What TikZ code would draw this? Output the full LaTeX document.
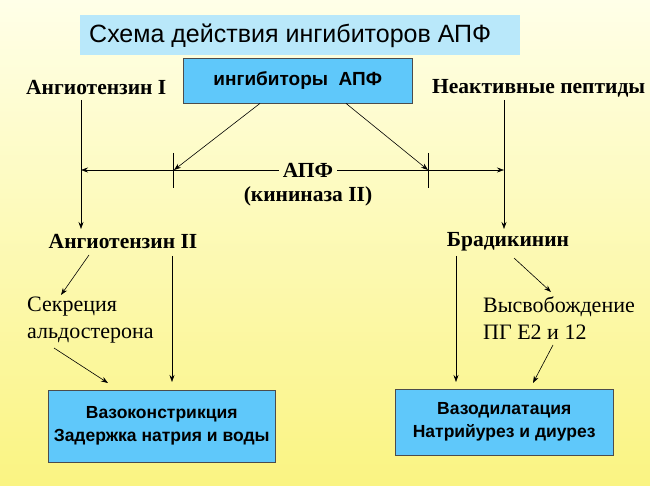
\documentclass[tikz,border=0pt]{standalone}
\usepackage{fontspec}
\setmainfont{Liberation Serif}
\setsansfont{Liberation Sans}
\usetikzlibrary{arrows.meta}
\definecolor{bx}{RGB}{95,200,250}
\definecolor{tb}{RGB}{185,232,250}
\definecolor{bgt}{RGB}{255,255,232}
\definecolor{bgb}{RGB}{250,244,130}
\begin{document}
\begin{tikzpicture}[x=1pt,y=-1pt,
  lab/.style={font=\fontsize{21.5}{24}\selectfont\bfseries, inner sep=0pt},
  txt/.style={font=\fontsize{22}{27}\selectfont, inner sep=0pt, align=left},
  box/.style={draw=black!70, fill=bx, font=\sffamily\bfseries\fontsize{17.5}{23}\selectfont, align=center},
  arr/.style={-{Stealth[length=7pt,width=5pt]}, line width=0.6pt},
  ln/.style={line width=0.6pt}]
\shade[top color=bgt, bottom color=bgb] (0,0) rectangle (650,486);
\useasboundingbox (0,0) rectangle (650,486);
\node[fill=tb, minimum width=440pt, minimum height=40pt, anchor=north west, inner sep=0pt] (title) at (80,15) {};
\node[anchor=west, font=\sffamily\fontsize{25}{28}\selectfont, inner sep=0pt] (tt) at (89,36) {Схема действия ингибиторов АПФ};
\node[box, font=\sffamily\bfseries\fontsize{19}{23}\selectfont, minimum width=229pt, minimum height=45pt, anchor=north west, inner sep=0pt] (inh) at (183,58) {ингибиторы\ \ АПФ};
\node[lab, anchor=west] (a1) at (26,88) {Ангиотензин I};
\node[lab, anchor=west] (np) at (432,88) {Неактивные пептиды};
\node[lab] (apf) at (308,170) {АПФ};
\node[lab] (kin) at (308,196) {(кининаза II)};
\node[lab] (a2) at (123,242) {Ангиотензин II};
\node[lab] (bk) at (508,242) {Брадикинин};
\node[txt, anchor=north west] (sek) at (27,297) {Секреция\\альдостерона};
\node[txt, anchor=north west] (vys) at (483,297) {Высвобождение\\ПГ Е2 и 12};
\node[box, minimum width=227pt, minimum height=72pt, anchor=north west, inner sep=0pt] (b1) at (48,390) {Вазоконстрикция\\Задержка натрия и воды};
\node[box, minimum width=218pt, minimum height=66pt, anchor=north west, inner sep=0pt] (b2) at (395,389) {Вазодилатация\\Натрийурез и диурез};
\coordinate (l0) at (81,100); \coordinate (l1) at (81,229);
\coordinate (r0) at (504,100); \coordinate (r1) at (504,229);
\coordinate (hl) at (81,170); \coordinate (hr) at (504,170);
\coordinate (t1a) at (173,153); \coordinate (t1b) at (173,188);
\coordinate (t2a) at (428,153); \coordinate (t2b) at (428,188);
\coordinate (t1) at (174,170); \coordinate (t2) at (428,170);
\draw[arr] (l0) -- (l1);
\draw[arr] (r0) -- (r1);
\draw[arr] (apf.west) ++(-4,0) -- (hl);
\draw[arr] (apf.east) ++(4,0) -- (hr);
\draw[ln] (t1a) -- (t1b);
\draw[ln] (t2a) -- (t2b);
\draw[arr] (inh.south -| 260,0) -- (t1);
\draw[arr] (inh.south -| 346,0) -- (t2);
\draw[arr] (89,255) -- (61,295);
\draw[arr] (54,348) -- (108,383);
\draw[arr] (172,256) -- (172,382);
\draw[arr] (456,256) -- (456,382);
\draw[arr] (514,258) -- (551,292);
\draw[arr] (553,345) -- (533,383);
\end{tikzpicture}
\end{document}
